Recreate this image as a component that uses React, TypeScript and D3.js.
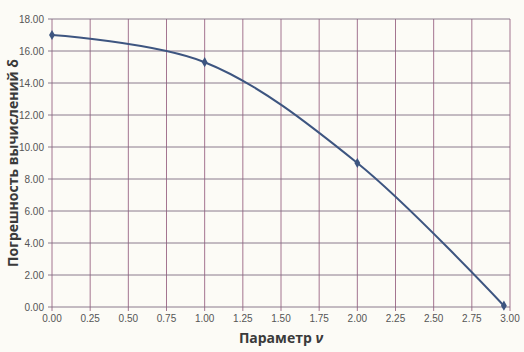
import { useEffect, useRef } from "react";
import * as d3 from "d3";

const xs = [0, 1.0, 2.0, 2.96];
const ys = [17.0, 15.3, 9.0, 0.08];
const xTicks = [0, 0.25, 0.5, 0.75, 1, 1.25, 1.5, 1.75, 2, 2.25, 2.5, 2.75, 3];
const yTicks = [0, 2, 4, 6, 8, 10, 12, 14, 16, 18];

const W = 524;
const H = 352;

export default function App() {
  const ref = useRef<SVGSVGElement | null>(null);

  useEffect(() => {
    if (!ref.current) return;
    const svg = d3.select(ref.current);
    svg.selectAll("*").remove();

    const m = { t: 19, r: 14, b: 45, l: 52 };
    const x = d3.scaleLinear().domain([0, 3]).range([m.l, W - m.r]);
    const y = d3.scaleLinear().domain([0, 18]).range([H - m.b, m.t]);

    svg.append("rect").attr("width", W).attr("height", H).attr("fill", "#fcfbf6");

    const font = "'Liberation Sans Narrow', 'Liberation Sans', sans-serif";

    // grid
    svg
      .append("g")
      .selectAll("line")
      .data(xTicks)
      .join("line")
      .attr("x1", (d) => x(d))
      .attr("x2", (d) => x(d))
      .attr("y1", y(18))
      .attr("y2", y(0) + 4)
      .attr("stroke", "#9a6585")
      .attr("stroke-width", 0.9);
    svg
      .append("g")
      .selectAll("line")
      .data(yTicks)
      .join("line")
      .attr("x1", x(0) - 4)
      .attr("x2", x(3))
      .attr("y1", (d) => y(d))
      .attr("y2", (d) => y(d))
      .attr("stroke", "#7f6c82")
      .attr("stroke-width", 0.9);

    // tick labels
    svg
      .append("g")
      .selectAll("text")
      .data(yTicks)
      .join("text")
      .attr("x", x(0) - 8)
      .attr("y", (d) => y(d) + 3.5)
      .attr("text-anchor", "end")
      .attr("font-family", font)
      .attr("font-size", 10)
      .attr("fill", "#555")
      .text((d) => d.toFixed(2));
    svg
      .append("g")
      .selectAll("text")
      .data(xTicks)
      .join("text")
      .attr("x", (d) => x(d))
      .attr("y", y(0) + 14.5)
      .attr("text-anchor", "middle")
      .attr("font-family", font)
      .attr("font-size", 10)
      .attr("fill", "#555")
      .text((d) => d.toFixed(2));

    // curve
    const pts = xs.map((v, i) => [v, ys[i]] as [number, number]);
    const line = d3
      .line<[number, number]>()
      .x((d) => x(d[0]))
      .y((d) => y(d[1]))
      .curve(d3.curveCatmullRom.alpha(0.5));
    svg
      .append("path")
      .datum(pts)
      .attr("fill", "none")
      .attr("stroke", "#3d5580")
      .attr("stroke-width", 2)
      .attr("d", line);

    svg
      .append("g")
      .selectAll("path")
      .data(pts)
      .join("path")
      .attr("transform", (d) => `translate(${x(d[0])},${y(d[1])})`)
      .attr("d", d3.symbol(d3.symbolDiamond, 30)())
      .attr("fill", "#3d5580");

    // axis titles
    svg
      .append("text")
      .attr("x", (x(0) + x(3)) / 2)
      .attr("y", 343)
      .attr("text-anchor", "middle")
      .attr("font-family", "'Open Sans', sans-serif")
      .attr("font-weight", "bold")
      .attr("font-size", 14)
      .attr("fill", "#3a3a3a")
      .call((t) => {
        t.append("tspan").text("Параметр ");
        t.append("tspan").attr("font-style", "italic").text("ν");
      });
    svg
      .append("text")
      .attr("transform", `translate(18,${(y(0) + y(18)) / 2}) rotate(-90)`)
      .attr("text-anchor", "middle")
      .attr("font-family", "'Open Sans', sans-serif")
      .attr("font-weight", "bold")
      .attr("font-size", 14)
      .attr("fill", "#3a3a3a")
      .text("Погрешность вычислений δ");
  }, []);

  return (
    <svg
      ref={ref}
      width={W}
      height={H}
      style={{ position: "absolute", left: 0, top: 0 }}
    />
  );
}
